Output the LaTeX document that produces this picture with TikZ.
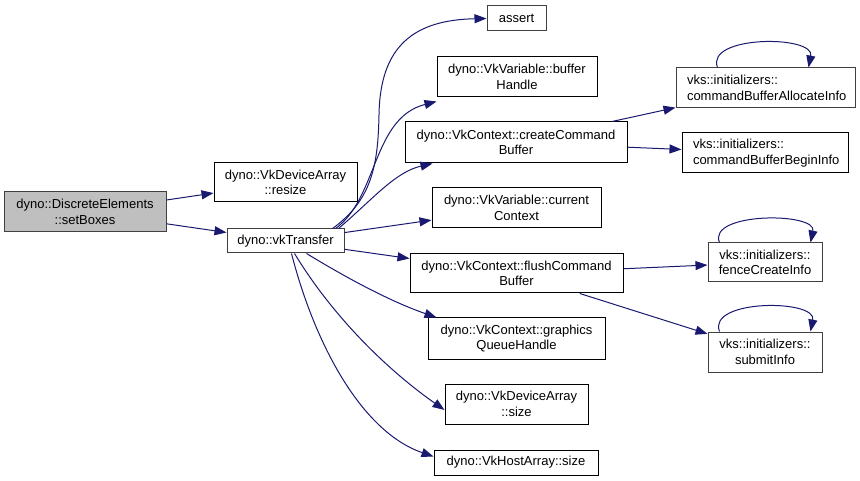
\documentclass[tikz,border=0pt]{standalone}
\usepackage{fontspec}
\setmainfont{Liberation Sans}
\usetikzlibrary{arrows.meta}
\definecolor{edgeblue}{HTML}{191970}
\definecolor{boxgrey}{HTML}{404040}
\definecolor{hlfill}{HTML}{BFBFBF}
\tikzset{
  fn/.style={draw=black, line width=1pt, fill=white, inner sep=0pt, align=center,
    font=\fontsize{13}{15.5}\selectfont, text=black},
  fng/.style={fn, draw=boxgrey},
  call/.style={draw=edgeblue, line width=1pt, -{Triangle[length=12pt,width=9pt]}},
}
\begin{document}
\begin{tikzpicture}[x=1pt,y=-1pt]
\useasboundingbox (0,0) rectangle (860,481);
% nodes
\node[fng, fill=hlfill, minimum width=162pt, minimum height=40pt] (sb) at (85,212) {dyno::DiscreteElements\\::setBoxes};
\node[fn, minimum width=143pt, minimum height=39pt] (rs) at (285.5,182.5) {dyno::VkDeviceArray\\::resize};
\node[fng, minimum width=117pt, minimum height=24pt] (vt) at (285.5,241) {dyno::vkTransfer};
\node[fng, minimum width=59pt, minimum height=25pt] (as) at (516.5,18.5) {assert};
\node[fn, minimum width=160pt, minimum height=40pt] (bh) at (517,77) {dyno::VkVariable::buffer\\Handle};
\node[fn, minimum width=222pt, minimum height=41pt] (cc) at (516,142.5) {dyno::VkContext::createCommand\\Buffer};
\node[fn, minimum width=169pt, minimum height=40pt] (cu) at (516.5,208) {dyno::VkVariable::current\\Context};
\node[fn, minimum width=213pt, minimum height=39pt] (fl) at (516.5,273.5) {dyno::VkContext::flushCommand\\Buffer};
\node[fn, minimum width=177pt, minimum height=41pt] (gq) at (516.5,338.5) {dyno::VkContext::graphics\\QueueHandle};
\node[fn, minimum width=143pt, minimum height=40pt] (ds) at (516.5,404) {dyno::VkDeviceArray\\::size};
\node[fn, minimum width=164pt, minimum height=25pt] (hs) at (516,462.5) {dyno::VkHostArray::size};
\node[fng, minimum width=179pt, minimum height=40pt, align=left, text width=157pt] (al) at (765.5,88) {vks::initializers::\\commandBufferAllocateInfo};
\node[fn, minimum width=166pt, minimum height=40pt, align=left, text width=144pt] (bi) at (765,153) {vks::initializers::\\commandBufferBeginInfo};
\node[fng, minimum width=114pt, minimum height=39pt] (fc) at (765,262.5) {vks::initializers::\\fenceCreateInfo};
\node[fng, minimum width=114pt, minimum height=40pt] (si) at (765,352) {vks::initializers::\\submitInfo};
% edges
\draw[call] (sb) -- (rs);
\draw[call] (sb) -- (vt);
\draw[call] ([xshift=-12pt]vt.north east) .. controls (372,200) and (378,165) .. (379,115) .. controls (380,45) and (415,20) .. (as.west);
\draw[call] ([xshift=-9pt]vt.north east) .. controls (378,198) and (372,118) .. ([yshift=-4pt]bh.south west);
\draw[call] ([xshift=-6pt]vt.north east) .. controls (372,200) and (395,172) .. ([xshift=28pt]cc.south west);
\draw[call] (vt) -- (cu);
\draw[call] (vt) -- (fl);
\draw[call] ([xshift=21pt]vt.south) .. controls (350,280) and (392,302) .. ([xshift=9pt]gq.north west);
\draw[call] ([xshift=9pt]vt.south) .. controls (330,312) and (382,366) .. ([yshift=-6pt]ds.west);
\draw[call] ([xshift=6pt]vt.south) .. controls (315,345) and (362,432) .. ([yshift=6pt]hs.west);
\draw[call] (cc) -- (al);
\draw[call] (cc) -- (bi);
\draw[call] (fl) -- (fc);
\draw[call] (fl) -- (si);
% self loops
\draw[call] ([xshift=42pt]al.north west) .. controls (705,35) and (815,35) .. ([xshift=-47pt]al.north east);
\draw[call] ([xshift=12pt]fc.north west) .. controls (707,212) and (817,212) .. ([xshift=-12pt]fc.north east);
\draw[call] ([xshift=12pt]si.north west) .. controls (707,299) and (817,299) .. ([xshift=-12pt]si.north east);
\end{tikzpicture}
\end{document}
